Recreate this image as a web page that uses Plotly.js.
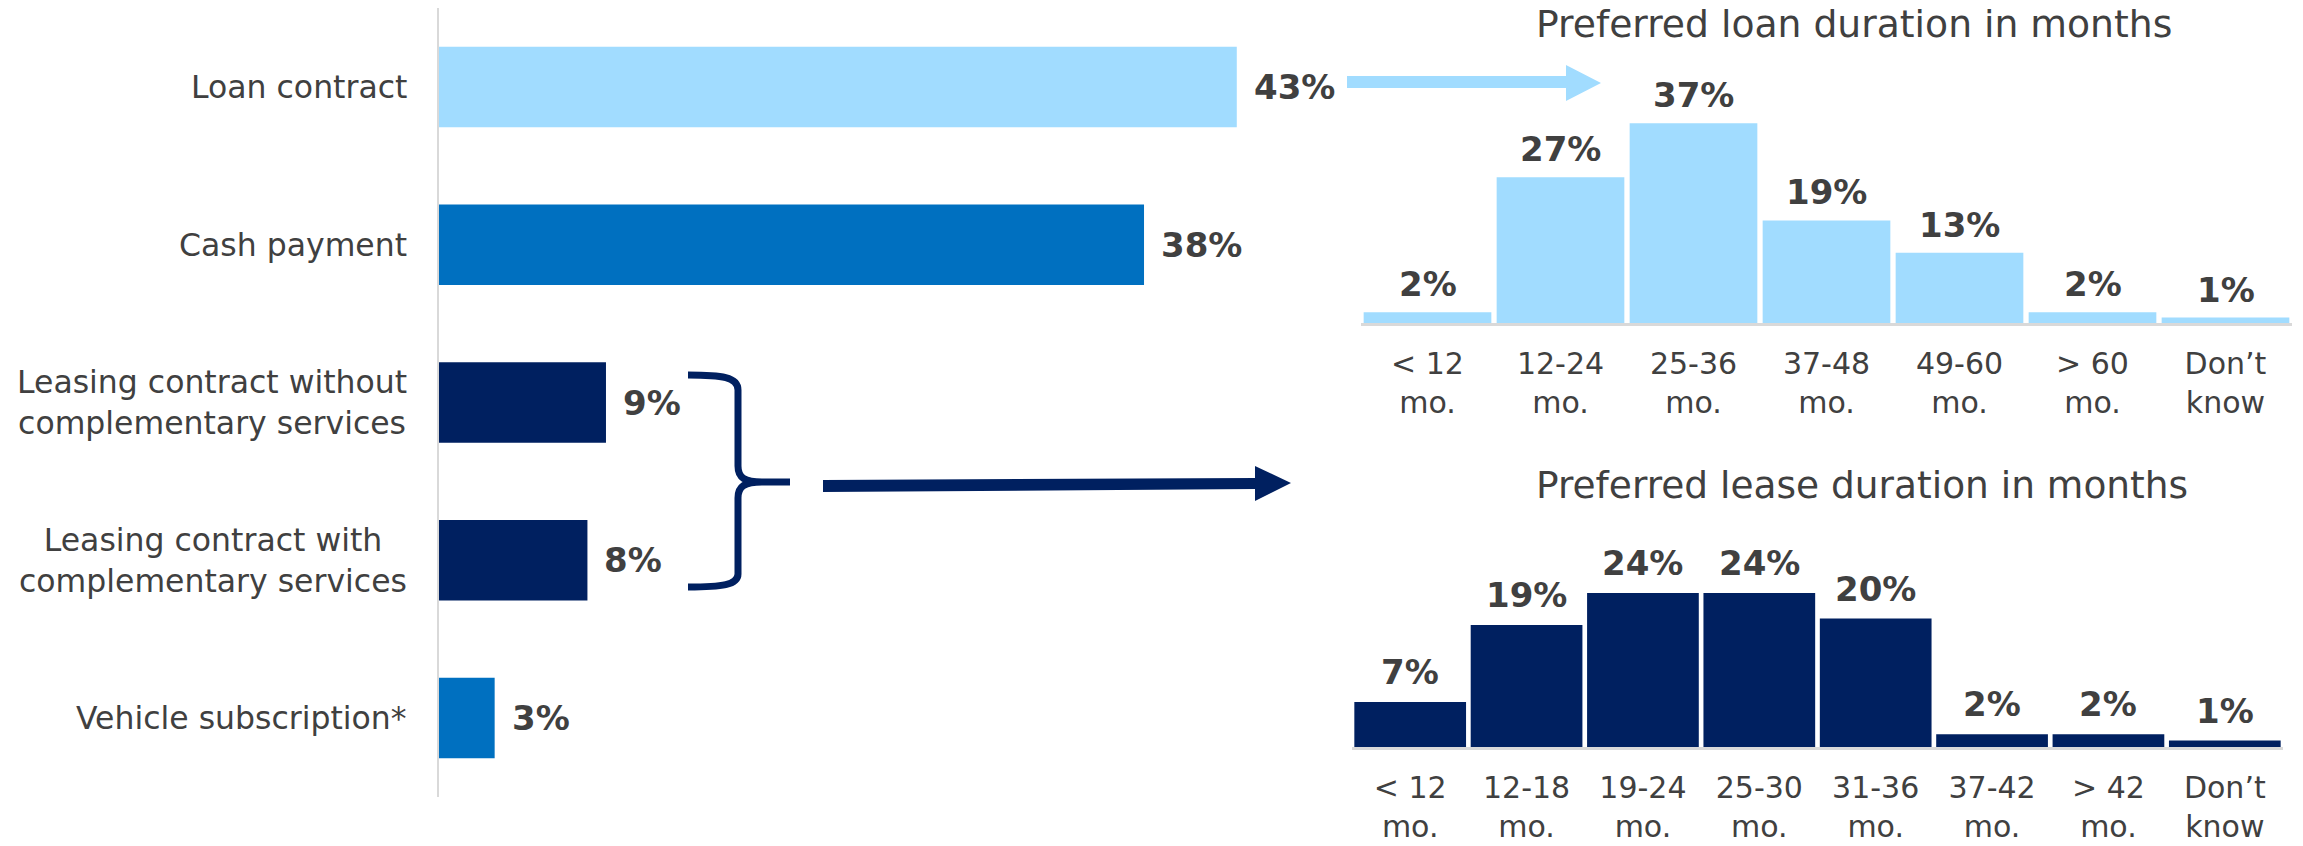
<!DOCTYPE html>
<html>
<head>
<meta charset="utf-8">
<script src="https://cdn.plot.ly/plotly-3.0.1.min.js"></script>
<style>html,body{margin:0;padding:0;background:#fff;}#chart{width:2303px;height:846px;}</style>
</head>
<body>
<div id="chart"></div>
<script>
// ---------- data ----------
const paymentMethods = ['Loan contract', 'Cash payment', 'Leasing contract without complementary services', 'Leasing contract with complementary services', 'Vehicle subscription*'];
const paymentTickText = ['Loan contract', 'Cash payment', 'Leasing contract without<br>complementary services', 'Leasing contract with<br>complementary services', 'Vehicle subscription*'];
const paymentShares = [43, 38, 9, 8, 3];

const loanTitle = 'Preferred loan duration in months';
const loanDurations = ['< 12 mo.', '12-24 mo.', '25-36 mo.', '37-48 mo.', '49-60 mo.', '> 60 mo.', 'Don’t know'];
const loanShares = [2, 27, 37, 19, 13, 2, 1];

const leaseTitle = 'Preferred lease duration in months';
const leaseDurations = ['< 12 mo.', '12-18 mo.', '19-24 mo.', '25-30 mo.', '31-36 mo.', '37-42 mo.', '> 42 mo.', 'Don’t know'];
const leaseShares = [7, 19, 24, 24, 20, 2, 2, 1];

// ---------- styles ----------
const LIGHT = '#A1DCFF', MID = '#0070C0', NAVY = '#002060', TXT = '#404040', GRID = '#D9D9D9';
const paymentColors = [LIGHT, MID, NAVY, NAVY, MID];
const FONT = 'DejaVu Sans, Verdana, sans-serif';
const W = 2303, H = 846;
const px = x => x / W;
const py = y => 1 - y / H;
const pt = (x, y) => px(x).toFixed(5) + ',' + py(y).toFixed(5);

function tickFmt(s) {
  return s.replace(/&/g, '&amp;').replace(/</g, '&lt;').replace(/>/g, '&gt;').replace(/ (\S+)$/, '<br>$1');
}

const traces = [
  {
    type: 'bar', orientation: 'h', xaxis: 'x', yaxis: 'y',
    y: paymentMethods, x: paymentShares, width: 0.51,
    marker: {color: paymentColors}, hoverinfo: 'skip'
  },
  {
    type: 'bar', xaxis: 'x2', yaxis: 'y2',
    x: loanDurations, y: loanShares,
    marker: {color: LIGHT}, hoverinfo: 'skip'
  },
  {
    type: 'bar', xaxis: 'x3', yaxis: 'y3',
    x: leaseDurations, y: leaseShares,
    marker: {color: NAVY}, hoverinfo: 'skip'
  }
];

const valueFont = {family: FONT, size: 34, color: TXT};
const annotations = [];
paymentMethods.forEach((c, i) => {
  // category label (centred multi-line, right edge near the axis)
  annotations.push({
    xref: 'paper', yref: 'y', x: px(409), y: c,
    xanchor: 'right', yanchor: 'middle', align: 'center', showarrow: false,
    text: paymentTickText[i],
    font: {family: FONT, size: 31.5, color: TXT}
  });
  // value label
  annotations.push({
    xref: 'x', yref: 'y', x: paymentShares[i], y: c,
    xanchor: 'left', yanchor: 'middle', xshift: 15, showarrow: false,
    text: '<b>' + paymentShares[i] + '%</b>', font: valueFont
  });
});
loanDurations.forEach((c, i) => {
  annotations.push({
    xref: 'x2', yref: 'y2', x: c, y: loanShares[i],
    xanchor: 'center', yanchor: 'bottom', yshift: 6, showarrow: false,
    text: '<b>' + loanShares[i] + '%</b>', font: valueFont
  });
});
leaseDurations.forEach((c, i) => {
  annotations.push({
    xref: 'x3', yref: 'y3', x: c, y: leaseShares[i],
    xanchor: 'center', yanchor: 'bottom', yshift: 8, showarrow: false,
    text: '<b>' + leaseShares[i] + '%</b>', font: valueFont
  });
});
annotations.push({
  xref: 'paper', yref: 'paper', x: px(1854), y: py(24), xanchor: 'center', yanchor: 'middle',
  showarrow: false, text: loanTitle, font: {family: FONT, size: 37.7, color: TXT}
});
annotations.push({
  xref: 'paper', yref: 'paper', x: px(1862), y: py(485), xanchor: 'center', yanchor: 'middle',
  showarrow: false, text: leaseTitle, font: {family: FONT, size: 37.5, color: TXT}
});

const shapes = [
  { // light arrow
    type: 'path', xref: 'paper', yref: 'paper', line: {width: 0}, fillcolor: LIGHT,
    path: 'M' + pt(1347, 76) + ' L' + pt(1566, 76) + ' L' + pt(1566, 65) + ' L' + pt(1601, 83) +
          ' L' + pt(1566, 101) + ' L' + pt(1566, 88) + ' L' + pt(1347, 88) + ' Z'
  },
  { // dark arrow
    type: 'path', xref: 'paper', yref: 'paper', line: {width: 0}, fillcolor: NAVY,
    path: 'M' + pt(823, 480) + ' L' + pt(1255, 478) + ' L' + pt(1255, 466) + ' L' + pt(1291, 483) +
          ' L' + pt(1255, 501) + ' L' + pt(1255, 489) + ' L' + pt(823, 492) + ' Z'
  },
  { // brace
    type: 'path', xref: 'paper', yref: 'paper', line: {width: 7, color: NAVY},
    path: 'M' + pt(688, 375) + ' C' + pt(722, 375) + ' ' + pt(738, 377) + ' ' + pt(738, 390) +
          ' L' + pt(738, 466) + ' C' + pt(738, 478) + ' ' + pt(745, 482) + ' ' + pt(762, 482) +
          ' L' + pt(790, 482) + ' M' + pt(762, 482) +
          ' C' + pt(745, 482) + ' ' + pt(738, 486) + ' ' + pt(738, 498) +
          ' L' + pt(738, 574) + ' C' + pt(738, 585) + ' ' + pt(722, 587) + ' ' + pt(688, 587)
  }
];

const hiddenAxis = {showgrid: false, zeroline: false, showticklabels: false, showline: false, ticks: '', fixedrange: true};

const layout = {
  width: W, height: H,
  margin: {l: 0, r: 0, t: 0, b: 0, pad: 0},
  paper_bgcolor: '#ffffff', plot_bgcolor: 'rgba(0,0,0,0)',
  font: {family: FONT, color: TXT},
  showlegend: false,
  bargap: 0.04,
  xaxis: Object.assign({}, hiddenAxis, {domain: [px(439), px(1311)], range: [0, 47], anchor: 'y'}),
  yaxis: {
    domain: [py(797), py(8)], anchor: 'x', type: 'category',
    categoryorder: 'array', categoryarray: paymentMethods, range: [4.5, -0.5],
    showticklabels: false,
    showline: true, linecolor: GRID, linewidth: 2, ticks: '', showgrid: false, zeroline: false,
    fixedrange: true
  },
  xaxis2: {
    domain: [px(1361), px(2292)], anchor: 'y2', type: 'category', range: [-0.5, 6.5],
    tickmode: 'array', tickvals: loanDurations, ticktext: loanDurations.map(tickFmt),
    showline: true, linecolor: GRID, linewidth: 3, ticks: '', showgrid: false, zeroline: false,
    ticklabelstandoff: 12, tickfont: {family: FONT, size: 30, color: TXT}, fixedrange: true
  },
  yaxis2: Object.assign({}, hiddenAxis, {domain: [py(323), py(80)], range: [0, 45], anchor: 'x2'}),
  xaxis3: {
    domain: [px(1352), px(2283)], anchor: 'y3', type: 'category', range: [-0.5, 7.5],
    tickmode: 'array', tickvals: leaseDurations, ticktext: leaseDurations.map(tickFmt),
    showline: true, linecolor: GRID, linewidth: 3, ticks: '', showgrid: false, zeroline: false,
    ticklabelstandoff: 12, tickfont: {family: FONT, size: 30, color: TXT}, fixedrange: true
  },
  yaxis3: Object.assign({}, hiddenAxis, {domain: [py(747), py(554.4)], range: [0, 30], anchor: 'x3'}),
  annotations: annotations,
  shapes: shapes
};

Plotly.newPlot('chart', traces, layout, {displayModeBar: false, staticPlot: true});
</script>
</body>
</html>
